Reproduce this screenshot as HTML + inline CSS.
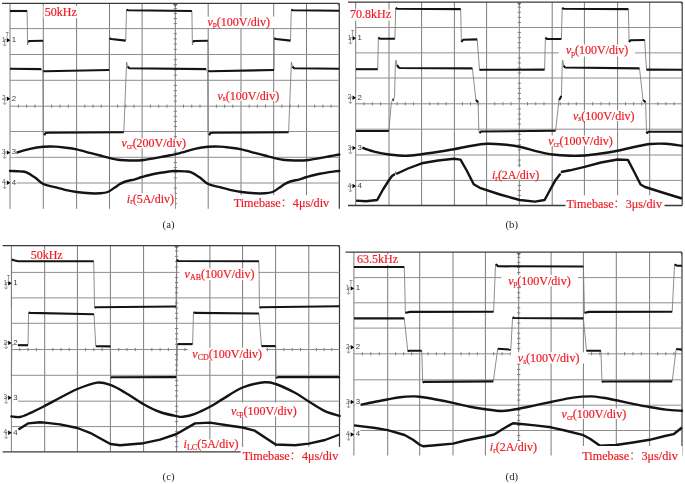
<!DOCTYPE html>
<html><head><meta charset="utf-8"><title>Waveforms</title>
<style>html,body{margin:0;padding:0;background:#fff;}body{width:685px;height:484px;overflow:hidden;}svg{display:block;}</style>
</head><body>
<svg width="685" height="484" viewBox="0 0 685 484">
<rect width="685" height="484" fill="#fff"/>
<g shape-rendering="auto">
<line x1="10" y1="3.4" x2="10" y2="208.8" stroke="#7c7c7c" stroke-width="1.0"/>
<line x1="43.3" y1="3.4" x2="43.3" y2="208.8" stroke="#7c7c7c" stroke-width="1.0"/>
<line x1="76.6" y1="3.4" x2="76.6" y2="208.8" stroke="#7c7c7c" stroke-width="1.0"/>
<line x1="109.5" y1="3.4" x2="109.5" y2="208.8" stroke="#7c7c7c" stroke-width="1.0"/>
<line x1="142.1" y1="3.4" x2="142.1" y2="208.8" stroke="#7c7c7c" stroke-width="1.0"/>
<line x1="175.3" y1="3.4" x2="175.3" y2="208.8" stroke="#7c7c7c" stroke-width="1.0"/>
<line x1="208.2" y1="3.4" x2="208.2" y2="208.8" stroke="#7c7c7c" stroke-width="1.0"/>
<line x1="241" y1="3.4" x2="241" y2="208.8" stroke="#7c7c7c" stroke-width="1.0"/>
<line x1="273.7" y1="3.4" x2="273.7" y2="208.8" stroke="#7c7c7c" stroke-width="1.0"/>
<line x1="306.5" y1="3.4" x2="306.5" y2="208.8" stroke="#7c7c7c" stroke-width="1.0"/>
<line x1="339.3" y1="3.4" x2="339.3" y2="208.8" stroke="#3a3a3a" stroke-width="1.2"/>
<line x1="10" y1="28.6" x2="339.3" y2="28.6" stroke="#8e8e8e" stroke-width="1.0"/>
<line x1="10" y1="54.5" x2="339.3" y2="54.5" stroke="#8e8e8e" stroke-width="1.0"/>
<line x1="10" y1="80.3" x2="339.3" y2="80.3" stroke="#8e8e8e" stroke-width="1.0"/>
<line x1="10" y1="106.2" x2="339.3" y2="106.2" stroke="#8e8e8e" stroke-width="1.0"/>
<line x1="10" y1="131.5" x2="339.3" y2="131.5" stroke="#8e8e8e" stroke-width="1.0"/>
<line x1="10" y1="157.3" x2="339.3" y2="157.3" stroke="#8e8e8e" stroke-width="1.0"/>
<line x1="10" y1="183" x2="339.3" y2="183" stroke="#8e8e8e" stroke-width="1.0"/>
<line x1="2" y1="3.4" x2="339.3" y2="3.4" stroke="#3a3a3a" stroke-width="1.3"/>
<line x1="18.32" y1="104.6" x2="18.32" y2="107.8" stroke="#7c7c7c" stroke-width="1.0"/>
<line x1="26.65" y1="104.6" x2="26.65" y2="107.8" stroke="#7c7c7c" stroke-width="1.0"/>
<line x1="34.97" y1="104.6" x2="34.97" y2="107.8" stroke="#7c7c7c" stroke-width="1.0"/>
<line x1="51.62" y1="104.6" x2="51.62" y2="107.8" stroke="#7c7c7c" stroke-width="1.0"/>
<line x1="59.95" y1="104.6" x2="59.95" y2="107.8" stroke="#7c7c7c" stroke-width="1.0"/>
<line x1="68.27" y1="104.6" x2="68.27" y2="107.8" stroke="#7c7c7c" stroke-width="1.0"/>
<line x1="84.82" y1="104.6" x2="84.82" y2="107.8" stroke="#7c7c7c" stroke-width="1.0"/>
<line x1="93.05" y1="104.6" x2="93.05" y2="107.8" stroke="#7c7c7c" stroke-width="1.0"/>
<line x1="101.28" y1="104.6" x2="101.28" y2="107.8" stroke="#7c7c7c" stroke-width="1.0"/>
<line x1="117.65" y1="104.6" x2="117.65" y2="107.8" stroke="#7c7c7c" stroke-width="1.0"/>
<line x1="125.8" y1="104.6" x2="125.8" y2="107.8" stroke="#7c7c7c" stroke-width="1.0"/>
<line x1="133.95" y1="104.6" x2="133.95" y2="107.8" stroke="#7c7c7c" stroke-width="1.0"/>
<line x1="150.4" y1="104.6" x2="150.4" y2="107.8" stroke="#7c7c7c" stroke-width="1.0"/>
<line x1="158.7" y1="104.6" x2="158.7" y2="107.8" stroke="#7c7c7c" stroke-width="1.0"/>
<line x1="167" y1="104.6" x2="167" y2="107.8" stroke="#7c7c7c" stroke-width="1.0"/>
<line x1="183.53" y1="104.6" x2="183.53" y2="107.8" stroke="#7c7c7c" stroke-width="1.0"/>
<line x1="191.75" y1="104.6" x2="191.75" y2="107.8" stroke="#7c7c7c" stroke-width="1.0"/>
<line x1="199.97" y1="104.6" x2="199.97" y2="107.8" stroke="#7c7c7c" stroke-width="1.0"/>
<line x1="216.4" y1="104.6" x2="216.4" y2="107.8" stroke="#7c7c7c" stroke-width="1.0"/>
<line x1="224.6" y1="104.6" x2="224.6" y2="107.8" stroke="#7c7c7c" stroke-width="1.0"/>
<line x1="232.8" y1="104.6" x2="232.8" y2="107.8" stroke="#7c7c7c" stroke-width="1.0"/>
<line x1="249.18" y1="104.6" x2="249.18" y2="107.8" stroke="#7c7c7c" stroke-width="1.0"/>
<line x1="257.35" y1="104.6" x2="257.35" y2="107.8" stroke="#7c7c7c" stroke-width="1.0"/>
<line x1="265.52" y1="104.6" x2="265.52" y2="107.8" stroke="#7c7c7c" stroke-width="1.0"/>
<line x1="281.9" y1="104.6" x2="281.9" y2="107.8" stroke="#7c7c7c" stroke-width="1.0"/>
<line x1="290.1" y1="104.6" x2="290.1" y2="107.8" stroke="#7c7c7c" stroke-width="1.0"/>
<line x1="298.3" y1="104.6" x2="298.3" y2="107.8" stroke="#7c7c7c" stroke-width="1.0"/>
<line x1="314.7" y1="104.6" x2="314.7" y2="107.8" stroke="#7c7c7c" stroke-width="1.0"/>
<line x1="322.9" y1="104.6" x2="322.9" y2="107.8" stroke="#7c7c7c" stroke-width="1.0"/>
<line x1="331.1" y1="104.6" x2="331.1" y2="107.8" stroke="#7c7c7c" stroke-width="1.0"/>
<line x1="173.7" y1="8.44" x2="176.9" y2="8.44" stroke="#7c7c7c" stroke-width="1.0"/>
<line x1="173.7" y1="13.48" x2="176.9" y2="13.48" stroke="#7c7c7c" stroke-width="1.0"/>
<line x1="173.7" y1="18.52" x2="176.9" y2="18.52" stroke="#7c7c7c" stroke-width="1.0"/>
<line x1="173.7" y1="23.56" x2="176.9" y2="23.56" stroke="#7c7c7c" stroke-width="1.0"/>
<line x1="173.7" y1="33.78" x2="176.9" y2="33.78" stroke="#7c7c7c" stroke-width="1.0"/>
<line x1="173.7" y1="38.96" x2="176.9" y2="38.96" stroke="#7c7c7c" stroke-width="1.0"/>
<line x1="173.7" y1="44.14" x2="176.9" y2="44.14" stroke="#7c7c7c" stroke-width="1.0"/>
<line x1="173.7" y1="49.32" x2="176.9" y2="49.32" stroke="#7c7c7c" stroke-width="1.0"/>
<line x1="173.7" y1="59.66" x2="176.9" y2="59.66" stroke="#7c7c7c" stroke-width="1.0"/>
<line x1="173.7" y1="64.82" x2="176.9" y2="64.82" stroke="#7c7c7c" stroke-width="1.0"/>
<line x1="173.7" y1="69.98" x2="176.9" y2="69.98" stroke="#7c7c7c" stroke-width="1.0"/>
<line x1="173.7" y1="75.14" x2="176.9" y2="75.14" stroke="#7c7c7c" stroke-width="1.0"/>
<line x1="173.7" y1="85.48" x2="176.9" y2="85.48" stroke="#7c7c7c" stroke-width="1.0"/>
<line x1="173.7" y1="90.66" x2="176.9" y2="90.66" stroke="#7c7c7c" stroke-width="1.0"/>
<line x1="173.7" y1="95.84" x2="176.9" y2="95.84" stroke="#7c7c7c" stroke-width="1.0"/>
<line x1="173.7" y1="101.02" x2="176.9" y2="101.02" stroke="#7c7c7c" stroke-width="1.0"/>
<line x1="173.7" y1="111.26" x2="176.9" y2="111.26" stroke="#7c7c7c" stroke-width="1.0"/>
<line x1="173.7" y1="116.32" x2="176.9" y2="116.32" stroke="#7c7c7c" stroke-width="1.0"/>
<line x1="173.7" y1="121.38" x2="176.9" y2="121.38" stroke="#7c7c7c" stroke-width="1.0"/>
<line x1="173.7" y1="126.44" x2="176.9" y2="126.44" stroke="#7c7c7c" stroke-width="1.0"/>
<line x1="173.7" y1="136.66" x2="176.9" y2="136.66" stroke="#7c7c7c" stroke-width="1.0"/>
<line x1="173.7" y1="141.82" x2="176.9" y2="141.82" stroke="#7c7c7c" stroke-width="1.0"/>
<line x1="173.7" y1="146.98" x2="176.9" y2="146.98" stroke="#7c7c7c" stroke-width="1.0"/>
<line x1="173.7" y1="152.14" x2="176.9" y2="152.14" stroke="#7c7c7c" stroke-width="1.0"/>
<line x1="173.7" y1="162.44" x2="176.9" y2="162.44" stroke="#7c7c7c" stroke-width="1.0"/>
<line x1="173.7" y1="167.58" x2="176.9" y2="167.58" stroke="#7c7c7c" stroke-width="1.0"/>
<line x1="173.7" y1="172.72" x2="176.9" y2="172.72" stroke="#7c7c7c" stroke-width="1.0"/>
<line x1="173.7" y1="177.86" x2="176.9" y2="177.86" stroke="#7c7c7c" stroke-width="1.0"/>
<line x1="173.7" y1="188.16" x2="176.9" y2="188.16" stroke="#7c7c7c" stroke-width="1.0"/>
<line x1="173.7" y1="193.32" x2="176.9" y2="193.32" stroke="#7c7c7c" stroke-width="1.0"/>
<line x1="173.7" y1="198.48" x2="176.9" y2="198.48" stroke="#7c7c7c" stroke-width="1.0"/>
<line x1="173.7" y1="203.64" x2="176.9" y2="203.64" stroke="#7c7c7c" stroke-width="1.0"/>
<path d="M335.7,3.4 Q339,3.7 339.3,8.2 L339.3,3.4 Z" fill="#555"/>
<path d="M172.8,3.9 L177.8,3.9 L175.3,6.9 Z" fill="#666"/>
<line x1="355.7" y1="2.1" x2="355.7" y2="205.5" stroke="#7c7c7c" stroke-width="1.0"/>
<line x1="389" y1="2.1" x2="389" y2="205.5" stroke="#7c7c7c" stroke-width="1.0"/>
<line x1="421.6" y1="2.1" x2="421.6" y2="205.5" stroke="#7c7c7c" stroke-width="1.0"/>
<line x1="454.4" y1="2.1" x2="454.4" y2="205.5" stroke="#7c7c7c" stroke-width="1.0"/>
<line x1="486.6" y1="2.1" x2="486.6" y2="205.5" stroke="#7c7c7c" stroke-width="1.0"/>
<line x1="519.3" y1="2.1" x2="519.3" y2="205.5" stroke="#7c7c7c" stroke-width="1.0"/>
<line x1="552.2" y1="2.1" x2="552.2" y2="205.5" stroke="#7c7c7c" stroke-width="1.0"/>
<line x1="584.4" y1="2.1" x2="584.4" y2="205.5" stroke="#7c7c7c" stroke-width="1.0"/>
<line x1="617.6" y1="2.1" x2="617.6" y2="205.5" stroke="#7c7c7c" stroke-width="1.0"/>
<line x1="649.7" y1="2.1" x2="649.7" y2="205.5" stroke="#7c7c7c" stroke-width="1.0"/>
<line x1="682.2" y1="2.1" x2="682.2" y2="205.5" stroke="#3a3a3a" stroke-width="1.2"/>
<line x1="355.7" y1="27.5" x2="682.2" y2="27.5" stroke="#8e8e8e" stroke-width="1.0"/>
<line x1="355.7" y1="52.9" x2="682.2" y2="52.9" stroke="#8e8e8e" stroke-width="1.0"/>
<line x1="355.7" y1="78" x2="682.2" y2="78" stroke="#8e8e8e" stroke-width="1.0"/>
<line x1="355.7" y1="103.8" x2="682.2" y2="103.8" stroke="#8e8e8e" stroke-width="1.0"/>
<line x1="355.7" y1="129.2" x2="682.2" y2="129.2" stroke="#8e8e8e" stroke-width="1.0"/>
<line x1="355.7" y1="155" x2="682.2" y2="155" stroke="#8e8e8e" stroke-width="1.0"/>
<line x1="355.7" y1="180.4" x2="682.2" y2="180.4" stroke="#8e8e8e" stroke-width="1.0"/>
<line x1="348" y1="2.1" x2="682.2" y2="2.1" stroke="#3a3a3a" stroke-width="1.3"/>
<line x1="348" y1="205.5" x2="682.2" y2="205.5" stroke="#3a3a3a" stroke-width="1.3"/>
<line x1="364.02" y1="102.2" x2="364.02" y2="105.4" stroke="#7c7c7c" stroke-width="1.0"/>
<line x1="372.35" y1="102.2" x2="372.35" y2="105.4" stroke="#7c7c7c" stroke-width="1.0"/>
<line x1="380.68" y1="102.2" x2="380.68" y2="105.4" stroke="#7c7c7c" stroke-width="1.0"/>
<line x1="397.15" y1="102.2" x2="397.15" y2="105.4" stroke="#7c7c7c" stroke-width="1.0"/>
<line x1="405.3" y1="102.2" x2="405.3" y2="105.4" stroke="#7c7c7c" stroke-width="1.0"/>
<line x1="413.45" y1="102.2" x2="413.45" y2="105.4" stroke="#7c7c7c" stroke-width="1.0"/>
<line x1="429.8" y1="102.2" x2="429.8" y2="105.4" stroke="#7c7c7c" stroke-width="1.0"/>
<line x1="438" y1="102.2" x2="438" y2="105.4" stroke="#7c7c7c" stroke-width="1.0"/>
<line x1="446.2" y1="102.2" x2="446.2" y2="105.4" stroke="#7c7c7c" stroke-width="1.0"/>
<line x1="462.45" y1="102.2" x2="462.45" y2="105.4" stroke="#7c7c7c" stroke-width="1.0"/>
<line x1="470.5" y1="102.2" x2="470.5" y2="105.4" stroke="#7c7c7c" stroke-width="1.0"/>
<line x1="478.55" y1="102.2" x2="478.55" y2="105.4" stroke="#7c7c7c" stroke-width="1.0"/>
<line x1="494.77" y1="102.2" x2="494.77" y2="105.4" stroke="#7c7c7c" stroke-width="1.0"/>
<line x1="502.95" y1="102.2" x2="502.95" y2="105.4" stroke="#7c7c7c" stroke-width="1.0"/>
<line x1="511.12" y1="102.2" x2="511.12" y2="105.4" stroke="#7c7c7c" stroke-width="1.0"/>
<line x1="527.52" y1="102.2" x2="527.52" y2="105.4" stroke="#7c7c7c" stroke-width="1.0"/>
<line x1="535.75" y1="102.2" x2="535.75" y2="105.4" stroke="#7c7c7c" stroke-width="1.0"/>
<line x1="543.98" y1="102.2" x2="543.98" y2="105.4" stroke="#7c7c7c" stroke-width="1.0"/>
<line x1="560.25" y1="102.2" x2="560.25" y2="105.4" stroke="#7c7c7c" stroke-width="1.0"/>
<line x1="568.3" y1="102.2" x2="568.3" y2="105.4" stroke="#7c7c7c" stroke-width="1.0"/>
<line x1="576.35" y1="102.2" x2="576.35" y2="105.4" stroke="#7c7c7c" stroke-width="1.0"/>
<line x1="592.7" y1="102.2" x2="592.7" y2="105.4" stroke="#7c7c7c" stroke-width="1.0"/>
<line x1="601" y1="102.2" x2="601" y2="105.4" stroke="#7c7c7c" stroke-width="1.0"/>
<line x1="609.3" y1="102.2" x2="609.3" y2="105.4" stroke="#7c7c7c" stroke-width="1.0"/>
<line x1="625.62" y1="102.2" x2="625.62" y2="105.4" stroke="#7c7c7c" stroke-width="1.0"/>
<line x1="633.65" y1="102.2" x2="633.65" y2="105.4" stroke="#7c7c7c" stroke-width="1.0"/>
<line x1="641.68" y1="102.2" x2="641.68" y2="105.4" stroke="#7c7c7c" stroke-width="1.0"/>
<line x1="657.83" y1="102.2" x2="657.83" y2="105.4" stroke="#7c7c7c" stroke-width="1.0"/>
<line x1="665.95" y1="102.2" x2="665.95" y2="105.4" stroke="#7c7c7c" stroke-width="1.0"/>
<line x1="674.08" y1="102.2" x2="674.08" y2="105.4" stroke="#7c7c7c" stroke-width="1.0"/>
<line x1="517.7" y1="7.18" x2="520.9" y2="7.18" stroke="#7c7c7c" stroke-width="1.0"/>
<line x1="517.7" y1="12.26" x2="520.9" y2="12.26" stroke="#7c7c7c" stroke-width="1.0"/>
<line x1="517.7" y1="17.34" x2="520.9" y2="17.34" stroke="#7c7c7c" stroke-width="1.0"/>
<line x1="517.7" y1="22.42" x2="520.9" y2="22.42" stroke="#7c7c7c" stroke-width="1.0"/>
<line x1="517.7" y1="32.58" x2="520.9" y2="32.58" stroke="#7c7c7c" stroke-width="1.0"/>
<line x1="517.7" y1="37.66" x2="520.9" y2="37.66" stroke="#7c7c7c" stroke-width="1.0"/>
<line x1="517.7" y1="42.74" x2="520.9" y2="42.74" stroke="#7c7c7c" stroke-width="1.0"/>
<line x1="517.7" y1="47.82" x2="520.9" y2="47.82" stroke="#7c7c7c" stroke-width="1.0"/>
<line x1="517.7" y1="57.92" x2="520.9" y2="57.92" stroke="#7c7c7c" stroke-width="1.0"/>
<line x1="517.7" y1="62.94" x2="520.9" y2="62.94" stroke="#7c7c7c" stroke-width="1.0"/>
<line x1="517.7" y1="67.96" x2="520.9" y2="67.96" stroke="#7c7c7c" stroke-width="1.0"/>
<line x1="517.7" y1="72.98" x2="520.9" y2="72.98" stroke="#7c7c7c" stroke-width="1.0"/>
<line x1="517.7" y1="83.16" x2="520.9" y2="83.16" stroke="#7c7c7c" stroke-width="1.0"/>
<line x1="517.7" y1="88.32" x2="520.9" y2="88.32" stroke="#7c7c7c" stroke-width="1.0"/>
<line x1="517.7" y1="93.48" x2="520.9" y2="93.48" stroke="#7c7c7c" stroke-width="1.0"/>
<line x1="517.7" y1="98.64" x2="520.9" y2="98.64" stroke="#7c7c7c" stroke-width="1.0"/>
<line x1="517.7" y1="108.88" x2="520.9" y2="108.88" stroke="#7c7c7c" stroke-width="1.0"/>
<line x1="517.7" y1="113.96" x2="520.9" y2="113.96" stroke="#7c7c7c" stroke-width="1.0"/>
<line x1="517.7" y1="119.04" x2="520.9" y2="119.04" stroke="#7c7c7c" stroke-width="1.0"/>
<line x1="517.7" y1="124.12" x2="520.9" y2="124.12" stroke="#7c7c7c" stroke-width="1.0"/>
<line x1="517.7" y1="134.36" x2="520.9" y2="134.36" stroke="#7c7c7c" stroke-width="1.0"/>
<line x1="517.7" y1="139.52" x2="520.9" y2="139.52" stroke="#7c7c7c" stroke-width="1.0"/>
<line x1="517.7" y1="144.68" x2="520.9" y2="144.68" stroke="#7c7c7c" stroke-width="1.0"/>
<line x1="517.7" y1="149.84" x2="520.9" y2="149.84" stroke="#7c7c7c" stroke-width="1.0"/>
<line x1="517.7" y1="160.08" x2="520.9" y2="160.08" stroke="#7c7c7c" stroke-width="1.0"/>
<line x1="517.7" y1="165.16" x2="520.9" y2="165.16" stroke="#7c7c7c" stroke-width="1.0"/>
<line x1="517.7" y1="170.24" x2="520.9" y2="170.24" stroke="#7c7c7c" stroke-width="1.0"/>
<line x1="517.7" y1="175.32" x2="520.9" y2="175.32" stroke="#7c7c7c" stroke-width="1.0"/>
<line x1="517.7" y1="185.42" x2="520.9" y2="185.42" stroke="#7c7c7c" stroke-width="1.0"/>
<line x1="517.7" y1="190.44" x2="520.9" y2="190.44" stroke="#7c7c7c" stroke-width="1.0"/>
<line x1="517.7" y1="195.46" x2="520.9" y2="195.46" stroke="#7c7c7c" stroke-width="1.0"/>
<line x1="517.7" y1="200.48" x2="520.9" y2="200.48" stroke="#7c7c7c" stroke-width="1.0"/>
<path d="M678.6,2.1 Q681.9,2.4 682.2,6.9 L682.2,2.1 Z" fill="#555"/>
<path d="M516.8,2.6 L521.8,2.6 L519.3,5.6 Z" fill="#666"/>
<line x1="11.4" y1="245.6" x2="11.4" y2="451.9" stroke="#7c7c7c" stroke-width="1.0"/>
<line x1="44.7" y1="245.6" x2="44.7" y2="451.9" stroke="#7c7c7c" stroke-width="1.0"/>
<line x1="77.4" y1="245.6" x2="77.4" y2="451.9" stroke="#7c7c7c" stroke-width="1.0"/>
<line x1="110.4" y1="245.6" x2="110.4" y2="451.9" stroke="#7c7c7c" stroke-width="1.0"/>
<line x1="143.6" y1="245.6" x2="143.6" y2="451.9" stroke="#7c7c7c" stroke-width="1.0"/>
<line x1="176.6" y1="245.6" x2="176.6" y2="451.9" stroke="#7c7c7c" stroke-width="1.0"/>
<line x1="209.9" y1="245.6" x2="209.9" y2="451.9" stroke="#7c7c7c" stroke-width="1.0"/>
<line x1="242.6" y1="245.6" x2="242.6" y2="451.9" stroke="#7c7c7c" stroke-width="1.0"/>
<line x1="275.6" y1="245.6" x2="275.6" y2="451.9" stroke="#7c7c7c" stroke-width="1.0"/>
<line x1="308.8" y1="245.6" x2="308.8" y2="451.9" stroke="#7c7c7c" stroke-width="1.0"/>
<line x1="339.5" y1="245.6" x2="339.5" y2="451.9" stroke="#3a3a3a" stroke-width="1.2"/>
<line x1="11.4" y1="272.4" x2="339.5" y2="272.4" stroke="#8e8e8e" stroke-width="1.0"/>
<line x1="11.4" y1="297.9" x2="339.5" y2="297.9" stroke="#8e8e8e" stroke-width="1.0"/>
<line x1="11.4" y1="323.3" x2="339.5" y2="323.3" stroke="#8e8e8e" stroke-width="1.0"/>
<line x1="11.4" y1="349.5" x2="339.5" y2="349.5" stroke="#8e8e8e" stroke-width="1.0"/>
<line x1="11.4" y1="375.3" x2="339.5" y2="375.3" stroke="#8e8e8e" stroke-width="1.0"/>
<line x1="11.4" y1="401.2" x2="339.5" y2="401.2" stroke="#8e8e8e" stroke-width="1.0"/>
<line x1="11.4" y1="426.6" x2="339.5" y2="426.6" stroke="#8e8e8e" stroke-width="1.0"/>
<line x1="2.6" y1="245.6" x2="339.5" y2="245.6" stroke="#3a3a3a" stroke-width="1.3"/>
<line x1="2.6" y1="451.9" x2="339.5" y2="451.9" stroke="#3a3a3a" stroke-width="1.3"/>
<line x1="19.73" y1="347.9" x2="19.73" y2="351.1" stroke="#7c7c7c" stroke-width="1.0"/>
<line x1="28.05" y1="347.9" x2="28.05" y2="351.1" stroke="#7c7c7c" stroke-width="1.0"/>
<line x1="36.38" y1="347.9" x2="36.38" y2="351.1" stroke="#7c7c7c" stroke-width="1.0"/>
<line x1="52.88" y1="347.9" x2="52.88" y2="351.1" stroke="#7c7c7c" stroke-width="1.0"/>
<line x1="61.05" y1="347.9" x2="61.05" y2="351.1" stroke="#7c7c7c" stroke-width="1.0"/>
<line x1="69.23" y1="347.9" x2="69.23" y2="351.1" stroke="#7c7c7c" stroke-width="1.0"/>
<line x1="85.65" y1="347.9" x2="85.65" y2="351.1" stroke="#7c7c7c" stroke-width="1.0"/>
<line x1="93.9" y1="347.9" x2="93.9" y2="351.1" stroke="#7c7c7c" stroke-width="1.0"/>
<line x1="102.15" y1="347.9" x2="102.15" y2="351.1" stroke="#7c7c7c" stroke-width="1.0"/>
<line x1="118.7" y1="347.9" x2="118.7" y2="351.1" stroke="#7c7c7c" stroke-width="1.0"/>
<line x1="127" y1="347.9" x2="127" y2="351.1" stroke="#7c7c7c" stroke-width="1.0"/>
<line x1="135.3" y1="347.9" x2="135.3" y2="351.1" stroke="#7c7c7c" stroke-width="1.0"/>
<line x1="151.85" y1="347.9" x2="151.85" y2="351.1" stroke="#7c7c7c" stroke-width="1.0"/>
<line x1="160.1" y1="347.9" x2="160.1" y2="351.1" stroke="#7c7c7c" stroke-width="1.0"/>
<line x1="168.35" y1="347.9" x2="168.35" y2="351.1" stroke="#7c7c7c" stroke-width="1.0"/>
<line x1="184.93" y1="347.9" x2="184.93" y2="351.1" stroke="#7c7c7c" stroke-width="1.0"/>
<line x1="193.25" y1="347.9" x2="193.25" y2="351.1" stroke="#7c7c7c" stroke-width="1.0"/>
<line x1="201.57" y1="347.9" x2="201.57" y2="351.1" stroke="#7c7c7c" stroke-width="1.0"/>
<line x1="218.07" y1="347.9" x2="218.07" y2="351.1" stroke="#7c7c7c" stroke-width="1.0"/>
<line x1="226.25" y1="347.9" x2="226.25" y2="351.1" stroke="#7c7c7c" stroke-width="1.0"/>
<line x1="234.43" y1="347.9" x2="234.43" y2="351.1" stroke="#7c7c7c" stroke-width="1.0"/>
<line x1="250.85" y1="347.9" x2="250.85" y2="351.1" stroke="#7c7c7c" stroke-width="1.0"/>
<line x1="259.1" y1="347.9" x2="259.1" y2="351.1" stroke="#7c7c7c" stroke-width="1.0"/>
<line x1="267.35" y1="347.9" x2="267.35" y2="351.1" stroke="#7c7c7c" stroke-width="1.0"/>
<line x1="283.9" y1="347.9" x2="283.9" y2="351.1" stroke="#7c7c7c" stroke-width="1.0"/>
<line x1="292.2" y1="347.9" x2="292.2" y2="351.1" stroke="#7c7c7c" stroke-width="1.0"/>
<line x1="300.5" y1="347.9" x2="300.5" y2="351.1" stroke="#7c7c7c" stroke-width="1.0"/>
<line x1="316.48" y1="347.9" x2="316.48" y2="351.1" stroke="#7c7c7c" stroke-width="1.0"/>
<line x1="324.15" y1="347.9" x2="324.15" y2="351.1" stroke="#7c7c7c" stroke-width="1.0"/>
<line x1="331.82" y1="347.9" x2="331.82" y2="351.1" stroke="#7c7c7c" stroke-width="1.0"/>
<line x1="175" y1="250.96" x2="178.2" y2="250.96" stroke="#7c7c7c" stroke-width="1.0"/>
<line x1="175" y1="256.32" x2="178.2" y2="256.32" stroke="#7c7c7c" stroke-width="1.0"/>
<line x1="175" y1="261.68" x2="178.2" y2="261.68" stroke="#7c7c7c" stroke-width="1.0"/>
<line x1="175" y1="267.04" x2="178.2" y2="267.04" stroke="#7c7c7c" stroke-width="1.0"/>
<line x1="175" y1="277.5" x2="178.2" y2="277.5" stroke="#7c7c7c" stroke-width="1.0"/>
<line x1="175" y1="282.6" x2="178.2" y2="282.6" stroke="#7c7c7c" stroke-width="1.0"/>
<line x1="175" y1="287.7" x2="178.2" y2="287.7" stroke="#7c7c7c" stroke-width="1.0"/>
<line x1="175" y1="292.8" x2="178.2" y2="292.8" stroke="#7c7c7c" stroke-width="1.0"/>
<line x1="175" y1="302.98" x2="178.2" y2="302.98" stroke="#7c7c7c" stroke-width="1.0"/>
<line x1="175" y1="308.06" x2="178.2" y2="308.06" stroke="#7c7c7c" stroke-width="1.0"/>
<line x1="175" y1="313.14" x2="178.2" y2="313.14" stroke="#7c7c7c" stroke-width="1.0"/>
<line x1="175" y1="318.22" x2="178.2" y2="318.22" stroke="#7c7c7c" stroke-width="1.0"/>
<line x1="175" y1="328.54" x2="178.2" y2="328.54" stroke="#7c7c7c" stroke-width="1.0"/>
<line x1="175" y1="333.78" x2="178.2" y2="333.78" stroke="#7c7c7c" stroke-width="1.0"/>
<line x1="175" y1="339.02" x2="178.2" y2="339.02" stroke="#7c7c7c" stroke-width="1.0"/>
<line x1="175" y1="344.26" x2="178.2" y2="344.26" stroke="#7c7c7c" stroke-width="1.0"/>
<line x1="175" y1="354.66" x2="178.2" y2="354.66" stroke="#7c7c7c" stroke-width="1.0"/>
<line x1="175" y1="359.82" x2="178.2" y2="359.82" stroke="#7c7c7c" stroke-width="1.0"/>
<line x1="175" y1="364.98" x2="178.2" y2="364.98" stroke="#7c7c7c" stroke-width="1.0"/>
<line x1="175" y1="370.14" x2="178.2" y2="370.14" stroke="#7c7c7c" stroke-width="1.0"/>
<line x1="175" y1="380.48" x2="178.2" y2="380.48" stroke="#7c7c7c" stroke-width="1.0"/>
<line x1="175" y1="385.66" x2="178.2" y2="385.66" stroke="#7c7c7c" stroke-width="1.0"/>
<line x1="175" y1="390.84" x2="178.2" y2="390.84" stroke="#7c7c7c" stroke-width="1.0"/>
<line x1="175" y1="396.02" x2="178.2" y2="396.02" stroke="#7c7c7c" stroke-width="1.0"/>
<line x1="175" y1="406.28" x2="178.2" y2="406.28" stroke="#7c7c7c" stroke-width="1.0"/>
<line x1="175" y1="411.36" x2="178.2" y2="411.36" stroke="#7c7c7c" stroke-width="1.0"/>
<line x1="175" y1="416.44" x2="178.2" y2="416.44" stroke="#7c7c7c" stroke-width="1.0"/>
<line x1="175" y1="421.52" x2="178.2" y2="421.52" stroke="#7c7c7c" stroke-width="1.0"/>
<line x1="175" y1="431.66" x2="178.2" y2="431.66" stroke="#7c7c7c" stroke-width="1.0"/>
<line x1="175" y1="436.72" x2="178.2" y2="436.72" stroke="#7c7c7c" stroke-width="1.0"/>
<line x1="175" y1="441.78" x2="178.2" y2="441.78" stroke="#7c7c7c" stroke-width="1.0"/>
<line x1="175" y1="446.84" x2="178.2" y2="446.84" stroke="#7c7c7c" stroke-width="1.0"/>
<path d="M335.9,245.6 Q339.2,245.9 339.5,250.4 L339.5,245.6 Z" fill="#555"/>
<path d="M174.1,246.1 L179.1,246.1 L176.6,249.1 Z" fill="#666"/>
<line x1="353.9" y1="252.2" x2="353.9" y2="455.5" stroke="#7c7c7c" stroke-width="1.0"/>
<line x1="387.7" y1="252.2" x2="387.7" y2="455.5" stroke="#7c7c7c" stroke-width="1.0"/>
<line x1="419.7" y1="252.2" x2="419.7" y2="455.5" stroke="#7c7c7c" stroke-width="1.0"/>
<line x1="453" y1="252.2" x2="453" y2="455.5" stroke="#7c7c7c" stroke-width="1.0"/>
<line x1="485.4" y1="252.2" x2="485.4" y2="455.5" stroke="#7c7c7c" stroke-width="1.0"/>
<line x1="518.7" y1="252.2" x2="518.7" y2="455.5" stroke="#7c7c7c" stroke-width="1.0"/>
<line x1="551.1" y1="252.2" x2="551.1" y2="455.5" stroke="#7c7c7c" stroke-width="1.0"/>
<line x1="583.4" y1="252.2" x2="583.4" y2="455.5" stroke="#7c7c7c" stroke-width="1.0"/>
<line x1="616.3" y1="252.2" x2="616.3" y2="455.5" stroke="#7c7c7c" stroke-width="1.0"/>
<line x1="649.6" y1="252.2" x2="649.6" y2="455.5" stroke="#7c7c7c" stroke-width="1.0"/>
<line x1="682" y1="252.2" x2="682" y2="455.5" stroke="#3a3a3a" stroke-width="1.2"/>
<line x1="353.9" y1="277.6" x2="682" y2="277.6" stroke="#8e8e8e" stroke-width="1.0"/>
<line x1="353.9" y1="302.8" x2="682" y2="302.8" stroke="#8e8e8e" stroke-width="1.0"/>
<line x1="353.9" y1="328.1" x2="682" y2="328.1" stroke="#8e8e8e" stroke-width="1.0"/>
<line x1="353.9" y1="353.8" x2="682" y2="353.8" stroke="#8e8e8e" stroke-width="1.0"/>
<line x1="353.9" y1="379.8" x2="682" y2="379.8" stroke="#8e8e8e" stroke-width="1.0"/>
<line x1="353.9" y1="405.2" x2="682" y2="405.2" stroke="#8e8e8e" stroke-width="1.0"/>
<line x1="353.9" y1="430.5" x2="682" y2="430.5" stroke="#8e8e8e" stroke-width="1.0"/>
<line x1="345.6" y1="252.2" x2="682" y2="252.2" stroke="#3a3a3a" stroke-width="1.3"/>
<line x1="362.35" y1="352.2" x2="362.35" y2="355.4" stroke="#7c7c7c" stroke-width="1.0"/>
<line x1="370.8" y1="352.2" x2="370.8" y2="355.4" stroke="#7c7c7c" stroke-width="1.0"/>
<line x1="379.25" y1="352.2" x2="379.25" y2="355.4" stroke="#7c7c7c" stroke-width="1.0"/>
<line x1="395.7" y1="352.2" x2="395.7" y2="355.4" stroke="#7c7c7c" stroke-width="1.0"/>
<line x1="403.7" y1="352.2" x2="403.7" y2="355.4" stroke="#7c7c7c" stroke-width="1.0"/>
<line x1="411.7" y1="352.2" x2="411.7" y2="355.4" stroke="#7c7c7c" stroke-width="1.0"/>
<line x1="428.02" y1="352.2" x2="428.02" y2="355.4" stroke="#7c7c7c" stroke-width="1.0"/>
<line x1="436.35" y1="352.2" x2="436.35" y2="355.4" stroke="#7c7c7c" stroke-width="1.0"/>
<line x1="444.68" y1="352.2" x2="444.68" y2="355.4" stroke="#7c7c7c" stroke-width="1.0"/>
<line x1="461.1" y1="352.2" x2="461.1" y2="355.4" stroke="#7c7c7c" stroke-width="1.0"/>
<line x1="469.2" y1="352.2" x2="469.2" y2="355.4" stroke="#7c7c7c" stroke-width="1.0"/>
<line x1="477.3" y1="352.2" x2="477.3" y2="355.4" stroke="#7c7c7c" stroke-width="1.0"/>
<line x1="493.73" y1="352.2" x2="493.73" y2="355.4" stroke="#7c7c7c" stroke-width="1.0"/>
<line x1="502.05" y1="352.2" x2="502.05" y2="355.4" stroke="#7c7c7c" stroke-width="1.0"/>
<line x1="510.38" y1="352.2" x2="510.38" y2="355.4" stroke="#7c7c7c" stroke-width="1.0"/>
<line x1="526.8" y1="352.2" x2="526.8" y2="355.4" stroke="#7c7c7c" stroke-width="1.0"/>
<line x1="534.9" y1="352.2" x2="534.9" y2="355.4" stroke="#7c7c7c" stroke-width="1.0"/>
<line x1="543" y1="352.2" x2="543" y2="355.4" stroke="#7c7c7c" stroke-width="1.0"/>
<line x1="559.17" y1="352.2" x2="559.17" y2="355.4" stroke="#7c7c7c" stroke-width="1.0"/>
<line x1="567.25" y1="352.2" x2="567.25" y2="355.4" stroke="#7c7c7c" stroke-width="1.0"/>
<line x1="575.33" y1="352.2" x2="575.33" y2="355.4" stroke="#7c7c7c" stroke-width="1.0"/>
<line x1="591.62" y1="352.2" x2="591.62" y2="355.4" stroke="#7c7c7c" stroke-width="1.0"/>
<line x1="599.85" y1="352.2" x2="599.85" y2="355.4" stroke="#7c7c7c" stroke-width="1.0"/>
<line x1="608.07" y1="352.2" x2="608.07" y2="355.4" stroke="#7c7c7c" stroke-width="1.0"/>
<line x1="624.62" y1="352.2" x2="624.62" y2="355.4" stroke="#7c7c7c" stroke-width="1.0"/>
<line x1="632.95" y1="352.2" x2="632.95" y2="355.4" stroke="#7c7c7c" stroke-width="1.0"/>
<line x1="641.27" y1="352.2" x2="641.27" y2="355.4" stroke="#7c7c7c" stroke-width="1.0"/>
<line x1="657.7" y1="352.2" x2="657.7" y2="355.4" stroke="#7c7c7c" stroke-width="1.0"/>
<line x1="665.8" y1="352.2" x2="665.8" y2="355.4" stroke="#7c7c7c" stroke-width="1.0"/>
<line x1="673.9" y1="352.2" x2="673.9" y2="355.4" stroke="#7c7c7c" stroke-width="1.0"/>
<line x1="517.1" y1="257.28" x2="520.3" y2="257.28" stroke="#7c7c7c" stroke-width="1.0"/>
<line x1="517.1" y1="262.36" x2="520.3" y2="262.36" stroke="#7c7c7c" stroke-width="1.0"/>
<line x1="517.1" y1="267.44" x2="520.3" y2="267.44" stroke="#7c7c7c" stroke-width="1.0"/>
<line x1="517.1" y1="272.52" x2="520.3" y2="272.52" stroke="#7c7c7c" stroke-width="1.0"/>
<line x1="517.1" y1="282.64" x2="520.3" y2="282.64" stroke="#7c7c7c" stroke-width="1.0"/>
<line x1="517.1" y1="287.68" x2="520.3" y2="287.68" stroke="#7c7c7c" stroke-width="1.0"/>
<line x1="517.1" y1="292.72" x2="520.3" y2="292.72" stroke="#7c7c7c" stroke-width="1.0"/>
<line x1="517.1" y1="297.76" x2="520.3" y2="297.76" stroke="#7c7c7c" stroke-width="1.0"/>
<line x1="517.1" y1="307.86" x2="520.3" y2="307.86" stroke="#7c7c7c" stroke-width="1.0"/>
<line x1="517.1" y1="312.92" x2="520.3" y2="312.92" stroke="#7c7c7c" stroke-width="1.0"/>
<line x1="517.1" y1="317.98" x2="520.3" y2="317.98" stroke="#7c7c7c" stroke-width="1.0"/>
<line x1="517.1" y1="323.04" x2="520.3" y2="323.04" stroke="#7c7c7c" stroke-width="1.0"/>
<line x1="517.1" y1="333.24" x2="520.3" y2="333.24" stroke="#7c7c7c" stroke-width="1.0"/>
<line x1="517.1" y1="338.38" x2="520.3" y2="338.38" stroke="#7c7c7c" stroke-width="1.0"/>
<line x1="517.1" y1="343.52" x2="520.3" y2="343.52" stroke="#7c7c7c" stroke-width="1.0"/>
<line x1="517.1" y1="348.66" x2="520.3" y2="348.66" stroke="#7c7c7c" stroke-width="1.0"/>
<line x1="517.1" y1="359" x2="520.3" y2="359" stroke="#7c7c7c" stroke-width="1.0"/>
<line x1="517.1" y1="364.2" x2="520.3" y2="364.2" stroke="#7c7c7c" stroke-width="1.0"/>
<line x1="517.1" y1="369.4" x2="520.3" y2="369.4" stroke="#7c7c7c" stroke-width="1.0"/>
<line x1="517.1" y1="374.6" x2="520.3" y2="374.6" stroke="#7c7c7c" stroke-width="1.0"/>
<line x1="517.1" y1="384.88" x2="520.3" y2="384.88" stroke="#7c7c7c" stroke-width="1.0"/>
<line x1="517.1" y1="389.96" x2="520.3" y2="389.96" stroke="#7c7c7c" stroke-width="1.0"/>
<line x1="517.1" y1="395.04" x2="520.3" y2="395.04" stroke="#7c7c7c" stroke-width="1.0"/>
<line x1="517.1" y1="400.12" x2="520.3" y2="400.12" stroke="#7c7c7c" stroke-width="1.0"/>
<line x1="517.1" y1="410.26" x2="520.3" y2="410.26" stroke="#7c7c7c" stroke-width="1.0"/>
<line x1="517.1" y1="415.32" x2="520.3" y2="415.32" stroke="#7c7c7c" stroke-width="1.0"/>
<line x1="517.1" y1="420.38" x2="520.3" y2="420.38" stroke="#7c7c7c" stroke-width="1.0"/>
<line x1="517.1" y1="425.44" x2="520.3" y2="425.44" stroke="#7c7c7c" stroke-width="1.0"/>
<line x1="517.1" y1="435.5" x2="520.3" y2="435.5" stroke="#7c7c7c" stroke-width="1.0"/>
<line x1="517.1" y1="440.5" x2="520.3" y2="440.5" stroke="#7c7c7c" stroke-width="1.0"/>
<line x1="517.1" y1="445.5" x2="520.3" y2="445.5" stroke="#7c7c7c" stroke-width="1.0"/>
<line x1="517.1" y1="450.5" x2="520.3" y2="450.5" stroke="#7c7c7c" stroke-width="1.0"/>
<path d="M678.4,252.2 Q681.7,252.5 682,257 L682,252.2 Z" fill="#555"/>
<path d="M516.2,252.7 L521.2,252.7 L518.7,255.7 Z" fill="#666"/>
</g>
<g>
<line x1="27.1" y1="11" x2="27.6" y2="45" stroke="#7a7a7a" stroke-width="0.85"/>
<line x1="27.6" y1="45" x2="28" y2="41.8" stroke="#7a7a7a" stroke-width="0.85"/>
<line x1="43.1" y1="40.8" x2="43.3" y2="71" stroke="#7a7a7a" stroke-width="0.85"/>
<line x1="109.2" y1="70" x2="109.4" y2="38.3" stroke="#7a7a7a" stroke-width="0.85"/>
<line x1="125.7" y1="40.6" x2="126.5" y2="9.6" stroke="#7a7a7a" stroke-width="0.85"/>
<line x1="191.9" y1="11" x2="192.4" y2="45" stroke="#7a7a7a" stroke-width="0.85"/>
<line x1="192.4" y1="45" x2="192.8" y2="41.8" stroke="#7a7a7a" stroke-width="0.85"/>
<line x1="207.9" y1="40.8" x2="208.1" y2="71" stroke="#7a7a7a" stroke-width="0.85"/>
<line x1="274" y1="70" x2="274.2" y2="38.3" stroke="#7a7a7a" stroke-width="0.85"/>
<line x1="290.5" y1="40.6" x2="291.3" y2="9.6" stroke="#7a7a7a" stroke-width="0.85"/>
<polyline fill="none" stroke="#141414" stroke-width="2.1" stroke-linejoin="round" points="10,11 27.1,11"/>
<polyline fill="none" stroke="#141414" stroke-width="2.1" stroke-linejoin="round" points="28,41.8 29.6,41 43.1,40.8"/>
<polyline fill="none" stroke="#141414" stroke-width="2.1" stroke-linejoin="round" points="43.3,71 45.1,71.2 109.2,70"/>
<polyline fill="none" stroke="#141414" stroke-width="2.1" stroke-linejoin="round" points="109.4,38.3 111.1,39 125.7,40.6"/>
<polyline fill="none" stroke="#141414" stroke-width="2.1" stroke-linejoin="round" points="126.5,9.6 128.1,10.3 191.9,11 191.9,11"/>
<polyline fill="none" stroke="#141414" stroke-width="2.1" stroke-linejoin="round" points="192.8,41.8 194.4,41 207.9,40.8"/>
<polyline fill="none" stroke="#141414" stroke-width="2.1" stroke-linejoin="round" points="208.1,71 209.9,71.2 274,70"/>
<polyline fill="none" stroke="#141414" stroke-width="2.1" stroke-linejoin="round" points="274.2,38.3 275.9,39 290.5,40.6"/>
<polyline fill="none" stroke="#141414" stroke-width="2.1" stroke-linejoin="round" points="291.3,9.6 292.9,10.3 339.3,10.81"/>
<line x1="41.3" y1="69.1" x2="42.5" y2="71.6" stroke="#7a7a7a" stroke-width="0.85"/>
<line x1="42.5" y1="71.6" x2="42.9" y2="74" stroke="#7a7a7a" stroke-width="0.85"/>
<line x1="42.9" y1="74" x2="43.2" y2="133" stroke="#7a7a7a" stroke-width="0.85"/>
<line x1="43.2" y1="133" x2="44.3" y2="135.3" stroke="#7a7a7a" stroke-width="0.85"/>
<line x1="123.8" y1="132.2" x2="126.6" y2="62" stroke="#7a7a7a" stroke-width="0.85"/>
<line x1="126.6" y1="62" x2="127.6" y2="66.5" stroke="#7a7a7a" stroke-width="0.85"/>
<line x1="206.1" y1="69.1" x2="207.3" y2="71.6" stroke="#7a7a7a" stroke-width="0.85"/>
<line x1="207.3" y1="71.6" x2="207.7" y2="74" stroke="#7a7a7a" stroke-width="0.85"/>
<line x1="207.7" y1="74" x2="208" y2="133" stroke="#7a7a7a" stroke-width="0.85"/>
<line x1="208" y1="133" x2="209.1" y2="135.3" stroke="#7a7a7a" stroke-width="0.85"/>
<line x1="288.6" y1="132.2" x2="291.4" y2="62" stroke="#7a7a7a" stroke-width="0.85"/>
<line x1="291.4" y1="62" x2="292.4" y2="66.5" stroke="#7a7a7a" stroke-width="0.85"/>
<polyline fill="none" stroke="#141414" stroke-width="2.1" stroke-linejoin="round" points="10,68.8 41.3,69.1"/>
<polyline fill="none" stroke="#141414" stroke-width="2.1" stroke-linejoin="round" points="44.3,135.3 45.6,133 48.8,132.8 123.8,132.2"/>
<polyline fill="none" stroke="#141414" stroke-width="2.1" stroke-linejoin="round" points="127.6,66.5 129.3,68.2 206.1,69.1 206.1,69.1"/>
<polyline fill="none" stroke="#141414" stroke-width="2.1" stroke-linejoin="round" points="209.1,135.3 210.4,133 213.6,132.8 288.6,132.2"/>
<polyline fill="none" stroke="#141414" stroke-width="2.1" stroke-linejoin="round" points="292.4,66.5 294.1,68.2 339.3,68.73"/>
<path fill="none" stroke="#141414" stroke-width="2.4" stroke-linejoin="round" stroke-linecap="round" d="M17,152.53 C17.08,152.51 15.33,153.01 17.5,152.4 C19.67,151.79 25.7,149.83 30,148.9 C34.3,147.97 39.13,147.18 43.3,146.8 C47.47,146.42 51.38,146.47 55,146.6 C58.62,146.73 61.4,147.13 65,147.6 C68.6,148.07 72.43,148.52 76.6,149.4 C80.77,150.28 86.1,151.88 90,152.9 C93.9,153.92 96.67,154.63 100,155.5 C103.33,156.37 106.67,157.35 110,158.1 C113.33,158.85 116.67,159.6 120,160 C123.33,160.4 126.35,160.47 130,160.5 C133.65,160.53 137.73,160.6 141.9,160.2 C146.07,159.8 151.15,158.77 155,158.1 C158.85,157.43 161.7,156.82 165,156.2 C168.3,155.58 171.92,155.03 174.8,154.4 C177.68,153.77 178.97,153.32 182.3,152.4 C185.63,151.48 190.5,149.83 194.8,148.9 C199.1,147.97 203.93,147.18 208.1,146.8 C212.27,146.42 216.18,146.47 219.8,146.6 C223.42,146.73 226.2,147.13 229.8,147.6 C233.4,148.07 237.23,148.52 241.4,149.4 C245.57,150.28 250.9,151.88 254.8,152.9 C258.7,153.92 261.47,154.63 264.8,155.5 C268.13,156.37 271.47,157.35 274.8,158.1 C278.13,158.85 281.47,159.6 284.8,160 C288.13,160.4 291.15,160.47 294.8,160.5 C298.45,160.53 302.53,160.6 306.7,160.2 C310.87,159.8 315.95,158.77 319.8,158.1 C323.65,157.43 326.55,156.81 329.8,156.2 C333.05,155.59 337.72,154.75 339.3,154.46"/>
<path fill="none" stroke="#141414" stroke-width="2.4" stroke-linejoin="round" stroke-linecap="round" d="M10,171 C11.67,171.07 17.25,171.18 20,171.4 C22.75,171.62 24,171.28 26.5,172.3 C29,173.32 32.2,175.55 35,177.5 C37.8,179.45 39.97,182.38 43.3,184 C46.63,185.62 51.38,186.23 55,187.2 C58.62,188.17 61.4,189 65,189.8 C68.6,190.6 72.43,191.42 76.6,192 C80.77,192.58 86.1,193.08 90,193.3 C93.9,193.52 97.05,193.52 100,193.3 C102.95,193.08 105.23,192.97 107.7,192 C110.17,191.03 112.75,188.83 114.8,187.5 C116.85,186.17 118.22,185 120,184 C121.78,183 123.02,182.28 125.5,181.5 C127.98,180.72 132.17,180.05 134.9,179.3 C137.63,178.55 138.55,177.93 141.9,177 C145.25,176.07 150.33,174.63 155,173.7 C159.67,172.77 166.6,171.85 169.9,171.4 C173.2,170.95 172.32,171 174.8,171 C177.28,171 182.05,171.18 184.8,171.4 C187.55,171.62 188.8,171.28 191.3,172.3 C193.8,173.32 197,175.55 199.8,177.5 C202.6,179.45 204.77,182.38 208.1,184 C211.43,185.62 216.18,186.23 219.8,187.2 C223.42,188.17 226.2,189 229.8,189.8 C233.4,190.6 237.23,191.42 241.4,192 C245.57,192.58 250.9,193.08 254.8,193.3 C258.7,193.52 261.85,193.52 264.8,193.3 C267.75,193.08 270.03,192.97 272.5,192 C274.97,191.03 277.55,188.83 279.6,187.5 C281.65,186.17 283.02,185 284.8,184 C286.58,183 287.82,182.28 290.3,181.5 C292.78,180.72 296.97,180.05 299.7,179.3 C302.43,178.55 303.35,177.93 306.7,177 C310.05,176.07 315.13,174.63 319.8,173.7 C324.47,172.77 331.45,171.85 334.7,171.4 C337.95,170.95 338.53,171.09 339.3,171.02"/>
<line x1="377.7" y1="69.2" x2="378.4" y2="37.5" stroke="#7a7a7a" stroke-width="0.85"/>
<line x1="394.9" y1="38.8" x2="395.7" y2="7.8" stroke="#7a7a7a" stroke-width="0.85"/>
<line x1="460.7" y1="9.1" x2="461.4" y2="42" stroke="#7a7a7a" stroke-width="0.85"/>
<line x1="477.2" y1="39.4" x2="479.5" y2="70" stroke="#7a7a7a" stroke-width="0.85"/>
<line x1="544.6" y1="69.6" x2="545.4" y2="37.6" stroke="#7a7a7a" stroke-width="0.85"/>
<line x1="561.4" y1="39" x2="562.2" y2="7.8" stroke="#7a7a7a" stroke-width="0.85"/>
<line x1="628.4" y1="9.1" x2="629.1" y2="42" stroke="#7a7a7a" stroke-width="0.85"/>
<line x1="644.7" y1="40" x2="646.5" y2="70" stroke="#7a7a7a" stroke-width="0.85"/>
<polyline fill="none" stroke="#141414" stroke-width="2.1" stroke-linejoin="round" points="356,69.2 377.7,69.2"/>
<polyline fill="none" stroke="#141414" stroke-width="2.1" stroke-linejoin="round" points="378.4,37.5 380,38.8 394.9,38.8"/>
<polyline fill="none" stroke="#141414" stroke-width="2.1" stroke-linejoin="round" points="395.7,7.8 397.2,8.8 460.7,9.1"/>
<polyline fill="none" stroke="#141414" stroke-width="2.1" stroke-linejoin="round" points="461.4,42 463,39.8 477.2,39.4"/>
<polyline fill="none" stroke="#141414" stroke-width="2.1" stroke-linejoin="round" points="479.5,70 481,69.8 544.6,69.6"/>
<polyline fill="none" stroke="#141414" stroke-width="2.1" stroke-linejoin="round" points="545.4,37.6 547,39 561.4,39"/>
<polyline fill="none" stroke="#141414" stroke-width="2.1" stroke-linejoin="round" points="562.2,7.8 563.7,8.8 628.4,9.1"/>
<polyline fill="none" stroke="#141414" stroke-width="2.1" stroke-linejoin="round" points="629.1,42 630.5,40.2 644.7,40"/>
<polyline fill="none" stroke="#141414" stroke-width="2.1" stroke-linejoin="round" points="646.5,70 648,69.5 682,69.8"/>
<line x1="388.9" y1="131" x2="391.2" y2="103.8" stroke="#7a7a7a" stroke-width="0.85"/>
<line x1="391.2" y1="103.8" x2="392.5" y2="100" stroke="#7a7a7a" stroke-width="0.85"/>
<line x1="393.8" y1="99.3" x2="394.6" y2="96" stroke="#7a7a7a" stroke-width="0.85"/>
<line x1="394.6" y1="96" x2="395.4" y2="62" stroke="#7a7a7a" stroke-width="0.85"/>
<line x1="395.4" y1="62" x2="396" y2="60.2" stroke="#7a7a7a" stroke-width="0.85"/>
<line x1="396" y1="60.2" x2="397" y2="65" stroke="#7a7a7a" stroke-width="0.85"/>
<line x1="472.4" y1="68.4" x2="475.9" y2="100" stroke="#7a7a7a" stroke-width="0.85"/>
<line x1="478" y1="102.3" x2="478.9" y2="131.5" stroke="#7a7a7a" stroke-width="0.85"/>
<line x1="478.9" y1="131.5" x2="479.6" y2="133.2" stroke="#7a7a7a" stroke-width="0.85"/>
<line x1="555.6" y1="130.8" x2="559" y2="100" stroke="#7a7a7a" stroke-width="0.85"/>
<line x1="561.4" y1="96" x2="562.3" y2="62" stroke="#7a7a7a" stroke-width="0.85"/>
<line x1="562.3" y1="62" x2="562.7" y2="60" stroke="#7a7a7a" stroke-width="0.85"/>
<line x1="562.7" y1="60" x2="563.6" y2="65.5" stroke="#7a7a7a" stroke-width="0.85"/>
<line x1="639.5" y1="68.4" x2="643" y2="100" stroke="#7a7a7a" stroke-width="0.85"/>
<line x1="645.6" y1="102.3" x2="646.5" y2="131.6" stroke="#7a7a7a" stroke-width="0.85"/>
<polyline fill="none" stroke="#141414" stroke-width="2.1" stroke-linejoin="round" points="356,131 388.9,131"/>
<polyline fill="none" stroke="#141414" stroke-width="2.1" stroke-linejoin="round" points="392.5,100 393.8,99.3"/>
<polyline fill="none" stroke="#141414" stroke-width="2.1" stroke-linejoin="round" points="397,65 398.5,67.4 400,68 472.4,68.4"/>
<polyline fill="none" stroke="#141414" stroke-width="2.1" stroke-linejoin="round" points="475.9,100 477,101 478,102.3"/>
<polyline fill="none" stroke="#141414" stroke-width="2.1" stroke-linejoin="round" points="479.6,133.2 481,131.5 555.6,130.8"/>
<polyline fill="none" stroke="#141414" stroke-width="2.1" stroke-linejoin="round" points="559,100 560,98.6 561.4,96"/>
<polyline fill="none" stroke="#141414" stroke-width="2.1" stroke-linejoin="round" points="563.6,65.5 565,67.5 639.5,68.4"/>
<polyline fill="none" stroke="#141414" stroke-width="2.1" stroke-linejoin="round" points="643,100 644.2,101 645.6,102.3"/>
<polyline fill="none" stroke="#141414" stroke-width="2.1" stroke-linejoin="round" points="646.5,131.6 647.2,133 648.5,131.7 682,131.8"/>
<path fill="none" stroke="#141414" stroke-width="2.4" stroke-linejoin="round" stroke-linecap="round" d="M363.1,148 C365.08,148.63 370.68,150.72 375,151.8 C379.32,152.88 383.83,153.82 389,154.5 C394.17,155.18 400.53,155.95 406,155.9 C411.47,155.85 416.63,154.85 421.8,154.2 C426.97,153.55 431.63,152.83 437,152 C442.37,151.17 448.5,150.2 454,149.2 C459.5,148.2 464.53,146.9 470,146 C475.47,145.1 481.3,144.05 486.8,143.8 C492.3,143.55 497.52,144 503,144.5 C508.48,145 514.03,145.67 519.7,146.8 C525.37,147.93 531.53,150.02 537,151.3 C542.47,152.58 547,153.75 552.5,154.5 C558,155.25 564.65,155.63 570,155.8 C575.35,155.97 579.43,155.88 584.6,155.5 C589.77,155.12 595.5,154.3 601,153.5 C606.5,152.7 612.1,151.78 617.6,150.7 C623.1,149.62 628.55,148.12 634,147 C639.45,145.88 644.97,144.53 650.3,144 C655.63,143.47 660.72,143.5 666,143.8 C671.28,144.1 679.33,145.47 682,145.8"/>
<line x1="395" y1="174" x2="395.6" y2="171.5" stroke="#7a7a7a" stroke-width="0.85"/>
<line x1="395.6" y1="171.5" x2="396.2" y2="174" stroke="#7a7a7a" stroke-width="0.85"/>
<line x1="560.4" y1="173.8" x2="561" y2="172" stroke="#7a7a7a" stroke-width="0.85"/>
<polyline fill="none" stroke="#141414" stroke-width="2.4" stroke-linejoin="round" points="356,200.6 366,201.2 377.2,200 383,189.5 389.4,179.5 392,176 395,174"/>
<polyline fill="none" stroke="#141414" stroke-width="2.4" stroke-linejoin="round" points="396.2,174 408,168.5 421.8,163.3 438,160.5 454,158.8 460.5,159.6 467,171 473.7,184.3 479.8,187.8 500,194.5 519.7,200 535,201.6 544.6,200 550,190 555.1,180.8 560.4,173.8"/>
<polyline fill="none" stroke="#141414" stroke-width="2.4" stroke-linejoin="round" points="561,172 570,170.3 584.6,166.9 601,162.5 617.6,159.5 627.9,159.9 634,171.5 640.6,184.5 645,187 664,193 682,198.5"/>
<line x1="11.4" y1="307" x2="11.7" y2="259.5" stroke="#7a7a7a" stroke-width="0.85"/>
<line x1="93.7" y1="261.3" x2="94.6" y2="307.7" stroke="#7a7a7a" stroke-width="0.85"/>
<line x1="176" y1="306.5" x2="176.6" y2="260" stroke="#7a7a7a" stroke-width="0.85"/>
<line x1="258.9" y1="261.3" x2="259.5" y2="307.9" stroke="#7a7a7a" stroke-width="0.85"/>
<polyline fill="none" stroke="#141414" stroke-width="2.1" stroke-linejoin="round" points="11.7,259.5 14,260.3 18,261.3 93.7,261.3"/>
<polyline fill="none" stroke="#141414" stroke-width="2.1" stroke-linejoin="round" points="94.6,307.7 96,307.2 176,306.5"/>
<polyline fill="none" stroke="#141414" stroke-width="2.1" stroke-linejoin="round" points="176.6,260 178.5,261 258.9,261.3"/>
<polyline fill="none" stroke="#141414" stroke-width="2.1" stroke-linejoin="round" points="259.5,307.9 261,307.2 339.6,306.3"/>
<line x1="11.4" y1="377" x2="11.9" y2="345.2" stroke="#7a7a7a" stroke-width="0.85"/>
<line x1="28" y1="345.2" x2="28.6" y2="312.6" stroke="#7a7a7a" stroke-width="0.85"/>
<line x1="94" y1="314.3" x2="95.8" y2="346.3" stroke="#7a7a7a" stroke-width="0.85"/>
<line x1="110.4" y1="346.4" x2="110.8" y2="377.8" stroke="#7a7a7a" stroke-width="0.85"/>
<line x1="176.2" y1="377.1" x2="177.6" y2="344.1" stroke="#7a7a7a" stroke-width="0.85"/>
<line x1="192.6" y1="344.1" x2="193.5" y2="312.3" stroke="#7a7a7a" stroke-width="0.85"/>
<line x1="258.9" y1="313.5" x2="261.5" y2="346.1" stroke="#7a7a7a" stroke-width="0.85"/>
<line x1="275.6" y1="346.1" x2="276" y2="378" stroke="#7a7a7a" stroke-width="0.85"/>
<polyline fill="none" stroke="#141414" stroke-width="2.1" stroke-linejoin="round" points="11.9,345.2 28,345.2"/>
<polyline fill="none" stroke="#141414" stroke-width="2.1" stroke-linejoin="round" points="28.6,312.6 30,312.9 94,314.3"/>
<polyline fill="none" stroke="#141414" stroke-width="2.1" stroke-linejoin="round" points="95.8,346.3 96.6,346.2 110.4,346.4"/>
<polyline fill="none" stroke="#141414" stroke-width="2.1" stroke-linejoin="round" points="110.8,377.8 112,377.3 176.2,377.1"/>
<polyline fill="none" stroke="#141414" stroke-width="2.1" stroke-linejoin="round" points="177.6,344.1 192.6,344.1"/>
<polyline fill="none" stroke="#141414" stroke-width="2.1" stroke-linejoin="round" points="193.5,312.3 195,312.9 258.9,313.5"/>
<polyline fill="none" stroke="#141414" stroke-width="2.1" stroke-linejoin="round" points="261.5,346.1 275.6,346.1"/>
<polyline fill="none" stroke="#141414" stroke-width="2.1" stroke-linejoin="round" points="276,378 278,377.1 339.6,377.1"/>
<path fill="none" stroke="#141414" stroke-width="2.4" stroke-linejoin="round" stroke-linecap="round" d="M11.4,416.4 C12.83,416.5 16.9,417.53 20,417 C23.1,416.47 25.88,415.05 30,413.2 C34.12,411.35 39.7,408.47 44.7,405.9 C49.7,403.33 54.55,400.62 60,397.8 C65.45,394.98 71.23,391.53 77.4,389 C83.57,386.47 91.5,383.28 97,382.6 C102.5,381.92 105.73,383.25 110.4,384.9 C115.07,386.55 119.47,389.28 125,392.5 C130.53,395.72 137.77,400.95 143.6,404.2 C149.43,407.45 154.5,410 160,412 C165.5,414 172.77,415.4 176.6,416.2 C180.43,417 179.93,417.2 183,416.8 C186.07,416.4 190.5,415.47 195,413.8 C199.5,412.13 205.33,409.28 210,406.8 C214.67,404.32 217.57,402.12 223,398.9 C228.43,395.68 235.73,390.27 242.6,387.5 C249.47,384.73 258.7,382.88 264.2,382.3 C269.7,381.72 270.47,382.25 275.6,384 C280.73,385.75 289.47,389.88 295,392.8 C300.53,395.72 303.8,398.43 308.8,401.5 C313.8,404.57 319.87,408.8 325,411.2 C330.13,413.6 337.17,415.12 339.6,415.9"/>
<polyline fill="none" stroke="#141414" stroke-width="2.4" stroke-linejoin="round" points="18.4,429.6 28,423.4 40,422.3 44.7,422.6 60,424.4 77.4,428 90,432.8 110.4,444 120,445.3 143.6,443.2 160,439.7 176.6,434 195,423.4 210,422.6 230,425.7 242.6,427.5 254.5,430.6 275.6,444.5 295,445.3 308.8,443.6 325,440 339.6,434.5"/>
<line x1="404.3" y1="267" x2="405.4" y2="313" stroke="#7a7a7a" stroke-width="0.85"/>
<line x1="493.6" y1="311.7" x2="495.5" y2="265" stroke="#7a7a7a" stroke-width="0.85"/>
<line x1="583.4" y1="266.5" x2="584.5" y2="313" stroke="#7a7a7a" stroke-width="0.85"/>
<line x1="672.2" y1="311.7" x2="674.5" y2="265" stroke="#7a7a7a" stroke-width="0.85"/>
<polyline fill="none" stroke="#141414" stroke-width="2.1" stroke-linejoin="round" points="354,267 404.3,267"/>
<polyline fill="none" stroke="#141414" stroke-width="2.1" stroke-linejoin="round" points="405.4,313 407,312.5 410,311.9 493.6,311.7"/>
<polyline fill="none" stroke="#141414" stroke-width="2.1" stroke-linejoin="round" points="495.5,265 496.5,264.6 498,266.3 583.4,266.5"/>
<polyline fill="none" stroke="#141414" stroke-width="2.1" stroke-linejoin="round" points="584.5,313 586,312.5 589,311.9 672.2,311.7"/>
<polyline fill="none" stroke="#141414" stroke-width="2.1" stroke-linejoin="round" points="674.5,265 675.5,264.8 677,265.7 682,265.7"/>
<line x1="404.3" y1="318.4" x2="407.8" y2="351.5" stroke="#7a7a7a" stroke-width="0.85"/>
<line x1="421.8" y1="350.8" x2="422.7" y2="382.6" stroke="#7a7a7a" stroke-width="0.85"/>
<line x1="493.3" y1="381.4" x2="497.7" y2="348.8" stroke="#7a7a7a" stroke-width="0.85"/>
<line x1="510.8" y1="349.6" x2="512.6" y2="317.3" stroke="#7a7a7a" stroke-width="0.85"/>
<line x1="583.4" y1="318.4" x2="586.5" y2="351" stroke="#7a7a7a" stroke-width="0.85"/>
<line x1="600.9" y1="350.8" x2="602" y2="382.2" stroke="#7a7a7a" stroke-width="0.85"/>
<line x1="672.2" y1="381.4" x2="676.2" y2="349" stroke="#7a7a7a" stroke-width="0.85"/>
<polyline fill="none" stroke="#141414" stroke-width="2.1" stroke-linejoin="round" points="354,318.4 404.3,318.4"/>
<polyline fill="none" stroke="#141414" stroke-width="2.1" stroke-linejoin="round" points="407.8,351.5 408.8,350.8 421.8,350.8"/>
<polyline fill="none" stroke="#141414" stroke-width="2.1" stroke-linejoin="round" points="422.7,382.6 424,381.9 493.3,381.4"/>
<polyline fill="none" stroke="#141414" stroke-width="2.1" stroke-linejoin="round" points="497.7,348.8 510.8,349.6"/>
<polyline fill="none" stroke="#141414" stroke-width="2.1" stroke-linejoin="round" points="512.6,317.3 514,318 583.4,318.4"/>
<polyline fill="none" stroke="#141414" stroke-width="2.1" stroke-linejoin="round" points="586.5,351 587.5,350.8 600.9,350.8"/>
<polyline fill="none" stroke="#141414" stroke-width="2.1" stroke-linejoin="round" points="602,382.2 603.2,381.5 672.2,381.4"/>
<polyline fill="none" stroke="#141414" stroke-width="2.1" stroke-linejoin="round" points="676.2,349 682,349.6"/>
<path fill="none" stroke="#141414" stroke-width="2.4" stroke-linejoin="round" stroke-linecap="round" d="M361.4,404.7 C363.5,404.25 369.62,402.88 374,402 C378.38,401.12 383.37,400.2 387.7,399.4 C392.03,398.6 395.78,397.7 400,397.2 C404.22,396.7 409.72,396.47 413,396.4 C416.28,396.33 415.87,396.28 419.7,396.8 C423.53,397.32 430.45,398.48 436,399.5 C441.55,400.52 447.33,401.68 453,402.9 C458.67,404.12 464.6,405.75 470,406.8 C475.4,407.85 480.07,408.5 485.4,409.2 C490.73,409.9 496.45,411.08 502,411 C507.55,410.92 513.2,409.65 518.7,408.7 C524.2,407.75 529.62,406.42 535,405.3 C540.38,404.18 544.67,403.28 551,402 C557.33,400.72 566.28,398.53 573,397.6 C579.72,396.67 586.3,396.37 591.3,396.4 C596.3,396.43 598.83,397.15 603,397.8 C607.17,398.45 611.3,399.3 616.3,400.3 C621.3,401.3 627.45,402.68 633,403.8 C638.55,404.92 644.1,406.03 649.6,407 C655.1,407.97 660.6,408.97 666,409.6 C671.4,410.23 679.33,410.6 682,410.8"/>
<polyline fill="none" stroke="#141414" stroke-width="2.4" stroke-linejoin="round" points="354,425.4 375.4,428 387.7,430.1 404.6,435 413,439.7 420.1,445 423.6,446.3 438,445 453,443.6 465.3,440.5 485.4,436.5 494.2,434.5 502,429.5 510,424.9 513,423.3 518.7,423.8 535,425.4 551,427.3 565,430.5 583.4,435.2 590,438.8 600,445.8 616,445 633,442.5 649.6,439.8 665,436 673.6,434.2 682,427.5"/>
</g>
<g>
<path d="M6.8,38 L10.3,40.2 L6.8,42.4 Z" fill="#000"/>
<text x="2" y="41.8" font-family="Liberation Sans, sans-serif" font-size="6.3" fill="#555">1</text>
<path d="M4.7,42.2 L4.7,39.6 L6.2,39.6" fill="none" stroke="#666" stroke-width="0.7"/>
<path d="M4.7,41.2 L4.7,46 M2.9,44.3 L4.7,46.2 L6.5,44.3" fill="none" stroke="#888" stroke-width="0.8"/>
<rect x="11" y="35.7" width="5.5" height="9" fill="#fff"/>
<text x="11.8" y="42" font-family="Liberation Sans, sans-serif" font-size="7.8" fill="#3a3a3a">1</text>
<text x="5.4" y="36" font-family="Liberation Sans, sans-serif" font-size="5.6" fill="#555">T</text>
<line x1="6.9" y1="36" x2="6.9" y2="38.2" stroke="#777" stroke-width="0.6"/>
<path d="M6.8,96.5 L10.3,98.7 L6.8,100.9 Z" fill="#000"/>
<text x="2" y="100.3" font-family="Liberation Sans, sans-serif" font-size="6.3" fill="#555">2</text>
<path d="M4.7,100.7 L4.7,98.1 L6.2,98.1" fill="none" stroke="#666" stroke-width="0.7"/>
<path d="M4.7,99.7 L4.7,104.5 M2.9,102.8 L4.7,104.7 L6.5,102.8" fill="none" stroke="#888" stroke-width="0.8"/>
<rect x="11" y="94.2" width="5.5" height="9" fill="#fff"/>
<text x="11.8" y="100.5" font-family="Liberation Sans, sans-serif" font-size="7.8" fill="#3a3a3a">2</text>
<path d="M6.8,150.4 L10.3,152.6 L6.8,154.8 Z" fill="#000"/>
<text x="2" y="154.2" font-family="Liberation Sans, sans-serif" font-size="6.3" fill="#555">3</text>
<path d="M4.7,154.6 L4.7,152 L6.2,152" fill="none" stroke="#666" stroke-width="0.7"/>
<path d="M4.7,153.6 L4.7,158.4 M2.9,156.7 L4.7,158.6 L6.5,156.7" fill="none" stroke="#888" stroke-width="0.8"/>
<rect x="11" y="148.1" width="5.5" height="9" fill="#fff"/>
<text x="11.8" y="154.4" font-family="Liberation Sans, sans-serif" font-size="7.8" fill="#3a3a3a">3</text>
<path d="M6.8,180.6 L10.3,182.8 L6.8,185 Z" fill="#000"/>
<text x="2" y="184.4" font-family="Liberation Sans, sans-serif" font-size="6.3" fill="#555">4</text>
<path d="M4.7,184.8 L4.7,182.2 L6.2,182.2" fill="none" stroke="#666" stroke-width="0.7"/>
<path d="M4.7,183.8 L4.7,188.6 M2.9,186.9 L4.7,188.8 L6.5,186.9" fill="none" stroke="#888" stroke-width="0.8"/>
<rect x="11" y="178.3" width="5.5" height="9" fill="#fff"/>
<text x="11.8" y="184.6" font-family="Liberation Sans, sans-serif" font-size="7.8" fill="#3a3a3a">4</text>
<rect x="43.5" y="6" width="35" height="12.2" fill="#fff"/>
<text x="44.8" y="16.2" font-family="Liberation Serif, Noto Serif CJK SC, serif" font-size="12" fill="#ee1c24" stroke="#ee1c24" stroke-width="0.2">50kHz</text>
<rect x="206.5" y="16.6" width="68.5" height="11.3" fill="#fff"/>
<text x="207.6" y="25.7" font-family="Liberation Serif, Noto Serif CJK SC, serif" font-size="12" fill="#ee1c24" stroke="#ee1c24" stroke-width="0.2"><tspan font-style="italic">v</tspan><tspan font-size="7.6" dy="1.7">p</tspan><tspan dy="-1.7">(100V/div)</tspan></text>
<rect x="216" y="92" width="66" height="8.7" fill="#fff"/>
<text x="217.5" y="99.7" font-family="Liberation Serif, Noto Serif CJK SC, serif" font-size="12" fill="#ee1c24" stroke="#ee1c24" stroke-width="0.2"><tspan font-style="italic">v</tspan><tspan font-size="7.6" dy="1.7">s</tspan><tspan dy="-1.7">(100V/div)</tspan></text>
<rect x="120" y="138.6" width="68" height="9.8" fill="#fff"/>
<text x="121.4" y="146.9" font-family="Liberation Serif, Noto Serif CJK SC, serif" font-size="12" fill="#ee1c24" stroke="#ee1c24" stroke-width="0.2"><tspan font-style="italic">v</tspan><tspan font-size="7.6" dy="1.7">cr</tspan><tspan dy="-1.7">(200V/div)</tspan></text>
<rect x="125.5" y="193.2" width="49.4" height="15.8" fill="#fff"/>
<text x="126.8" y="202.7" font-family="Liberation Serif, Noto Serif CJK SC, serif" font-size="12" fill="#ee1c24" stroke="#ee1c24" stroke-width="0.2"><tspan font-style="italic">i</tspan><tspan font-size="7.6" dy="1.7">r</tspan><tspan dy="-1.7">(5A/div)</tspan></text>
<rect x="232" y="195.1" width="105" height="14.9" fill="#fff"/>
<text x="233.7" y="207.3" font-family="Liberation Serif, Noto Serif CJK SC, serif" font-size="12.2" fill="#ee1c24" stroke="#ee1c24" stroke-width="0.2">Timebase：4μs/div</text>
<text x="162.6" y="227.7" font-family="Liberation Serif, Noto Serif CJK SC, serif" font-size="10.7" fill="#262626">(a)</text>
<path d="M352.5,36 L356,38.2 L352.5,40.4 Z" fill="#000"/>
<text x="347.7" y="39.8" font-family="Liberation Sans, sans-serif" font-size="6.3" fill="#555">1</text>
<path d="M350.4,40.2 L350.4,37.6 L351.9,37.6" fill="none" stroke="#666" stroke-width="0.7"/>
<path d="M350.4,39.2 L350.4,44 M348.6,42.3 L350.4,44.2 L352.2,42.3" fill="none" stroke="#888" stroke-width="0.8"/>
<rect x="356.7" y="33.7" width="5.5" height="9" fill="#fff"/>
<text x="357.5" y="40" font-family="Liberation Sans, sans-serif" font-size="7.8" fill="#3a3a3a">1</text>
<text x="351.1" y="34" font-family="Liberation Sans, sans-serif" font-size="5.6" fill="#555">T</text>
<line x1="352.6" y1="34" x2="352.6" y2="36.2" stroke="#777" stroke-width="0.6"/>
<path d="M352.5,95.5 L356,97.7 L352.5,99.9 Z" fill="#000"/>
<text x="347.7" y="99.3" font-family="Liberation Sans, sans-serif" font-size="6.3" fill="#555">2</text>
<path d="M350.4,99.7 L350.4,97.1 L351.9,97.1" fill="none" stroke="#666" stroke-width="0.7"/>
<path d="M350.4,98.7 L350.4,103.5 M348.6,101.8 L350.4,103.7 L352.2,101.8" fill="none" stroke="#888" stroke-width="0.8"/>
<rect x="356.7" y="93.2" width="5.5" height="9" fill="#fff"/>
<text x="357.5" y="99.5" font-family="Liberation Sans, sans-serif" font-size="7.8" fill="#3a3a3a">2</text>
<path d="M352.5,145.8 L356,148 L352.5,150.2 Z" fill="#000"/>
<text x="347.7" y="149.6" font-family="Liberation Sans, sans-serif" font-size="6.3" fill="#555">3</text>
<path d="M350.4,150 L350.4,147.4 L351.9,147.4" fill="none" stroke="#666" stroke-width="0.7"/>
<path d="M350.4,149 L350.4,153.8 M348.6,152.1 L350.4,154 L352.2,152.1" fill="none" stroke="#888" stroke-width="0.8"/>
<rect x="356.7" y="143.5" width="5.5" height="9" fill="#fff"/>
<text x="357.5" y="149.8" font-family="Liberation Sans, sans-serif" font-size="7.8" fill="#3a3a3a">3</text>
<path d="M352.5,183.8 L356,186 L352.5,188.2 Z" fill="#000"/>
<text x="347.7" y="187.6" font-family="Liberation Sans, sans-serif" font-size="6.3" fill="#555">4</text>
<path d="M350.4,188 L350.4,185.4 L351.9,185.4" fill="none" stroke="#666" stroke-width="0.7"/>
<path d="M350.4,187 L350.4,191.8 M348.6,190.1 L350.4,192 L352.2,190.1" fill="none" stroke="#888" stroke-width="0.8"/>
<rect x="356.7" y="181.5" width="5.5" height="9" fill="#fff"/>
<text x="357.5" y="187.8" font-family="Liberation Sans, sans-serif" font-size="7.8" fill="#3a3a3a">4</text>
<rect x="349" y="9.4" width="43.5" height="11.2" fill="#fff"/>
<text x="350" y="18.4" font-family="Liberation Serif, Noto Serif CJK SC, serif" font-size="12" fill="#ee1c24" stroke="#ee1c24" stroke-width="0.2">70.8kHz</text>
<rect x="558.6" y="44.5" width="76.4" height="12" fill="#fff"/>
<text x="565.9" y="54.3" font-family="Liberation Serif, Noto Serif CJK SC, serif" font-size="12" fill="#ee1c24" stroke="#ee1c24" stroke-width="0.2"><tspan font-style="italic">v</tspan><tspan font-size="7.6" dy="1.7">p</tspan><tspan dy="-1.7">(100V/div)</tspan></text>
<rect x="571.5" y="110.3" width="65" height="10.7" fill="#fff"/>
<text x="572.9" y="119.6" font-family="Liberation Serif, Noto Serif CJK SC, serif" font-size="12" fill="#ee1c24" stroke="#ee1c24" stroke-width="0.2"><tspan font-style="italic">v</tspan><tspan font-size="7.6" dy="1.7">s</tspan><tspan dy="-1.7">(100V/div)</tspan></text>
<rect x="547" y="135.5" width="67.5" height="10.5" fill="#fff"/>
<text x="548.2" y="144.8" font-family="Liberation Serif, Noto Serif CJK SC, serif" font-size="12" fill="#ee1c24" stroke="#ee1c24" stroke-width="0.2"><tspan font-style="italic">v</tspan><tspan font-size="7.6" dy="1.7">cr</tspan><tspan dy="-1.7">(100V/div)</tspan></text>
<rect x="490.5" y="167.2" width="50.5" height="12.4" fill="#fff"/>
<text x="492" y="179" font-family="Liberation Serif, Noto Serif CJK SC, serif" font-size="12" fill="#ee1c24" stroke="#ee1c24" stroke-width="0.2"><tspan font-style="italic">i</tspan><tspan font-size="7.6" dy="1.7">r</tspan><tspan dy="-1.7">(2A/div)</tspan></text>
<rect x="565.5" y="195.3" width="99" height="15.7" fill="#fff"/>
<text x="566.6" y="208.1" font-family="Liberation Serif, Noto Serif CJK SC, serif" font-size="12.2" fill="#ee1c24" stroke="#ee1c24" stroke-width="0.2">Timebase：3μs/div</text>
<text x="505.5" y="227.7" font-family="Liberation Serif, Noto Serif CJK SC, serif" font-size="10.7" fill="#262626">(b)</text>
<path d="M8.2,281 L11.7,283.2 L8.2,285.4 Z" fill="#000"/>
<text x="3.4" y="284.8" font-family="Liberation Sans, sans-serif" font-size="6.3" fill="#555">1</text>
<path d="M6.1,285.2 L6.1,282.6 L7.6,282.6" fill="none" stroke="#666" stroke-width="0.7"/>
<path d="M6.1,284.2 L6.1,289 M4.3,287.3 L6.1,289.2 L7.9,287.3" fill="none" stroke="#888" stroke-width="0.8"/>
<rect x="12.4" y="278.7" width="5.5" height="9" fill="#fff"/>
<text x="13.2" y="285" font-family="Liberation Sans, sans-serif" font-size="7.8" fill="#3a3a3a">1</text>
<text x="6.8" y="279" font-family="Liberation Sans, sans-serif" font-size="5.6" fill="#555">T</text>
<line x1="8.3" y1="279" x2="8.3" y2="281.2" stroke="#777" stroke-width="0.6"/>
<path d="M8.2,340.7 L11.7,342.9 L8.2,345.1 Z" fill="#000"/>
<text x="3.4" y="344.5" font-family="Liberation Sans, sans-serif" font-size="6.3" fill="#555">2</text>
<path d="M6.1,344.9 L6.1,342.3 L7.6,342.3" fill="none" stroke="#666" stroke-width="0.7"/>
<path d="M6.1,343.9 L6.1,348.7 M4.3,347 L6.1,348.9 L7.9,347" fill="none" stroke="#888" stroke-width="0.8"/>
<rect x="12.4" y="338.4" width="5.5" height="9" fill="#fff"/>
<text x="13.2" y="344.7" font-family="Liberation Sans, sans-serif" font-size="7.8" fill="#3a3a3a">2</text>
<path d="M8.2,395.5 L11.7,397.7 L8.2,399.9 Z" fill="#000"/>
<text x="3.4" y="399.3" font-family="Liberation Sans, sans-serif" font-size="6.3" fill="#555">3</text>
<path d="M6.1,399.7 L6.1,397.1 L7.6,397.1" fill="none" stroke="#666" stroke-width="0.7"/>
<path d="M6.1,398.7 L6.1,403.5 M4.3,401.8 L6.1,403.7 L7.9,401.8" fill="none" stroke="#888" stroke-width="0.8"/>
<rect x="12.4" y="393.2" width="5.5" height="9" fill="#fff"/>
<text x="13.2" y="399.5" font-family="Liberation Sans, sans-serif" font-size="7.8" fill="#3a3a3a">3</text>
<path d="M8.2,430.5 L11.7,432.7 L8.2,434.9 Z" fill="#000"/>
<text x="3.4" y="434.3" font-family="Liberation Sans, sans-serif" font-size="6.3" fill="#555">4</text>
<path d="M6.1,434.7 L6.1,432.1 L7.6,432.1" fill="none" stroke="#666" stroke-width="0.7"/>
<path d="M6.1,433.7 L6.1,438.5 M4.3,436.8 L6.1,438.7 L7.9,436.8" fill="none" stroke="#888" stroke-width="0.8"/>
<rect x="12.4" y="428.2" width="5.5" height="9" fill="#fff"/>
<text x="13.2" y="434.5" font-family="Liberation Sans, sans-serif" font-size="7.8" fill="#3a3a3a">4</text>
<rect x="29.5" y="249.5" width="34.5" height="10.5" fill="#fff"/>
<text x="30.7" y="259" font-family="Liberation Serif, Noto Serif CJK SC, serif" font-size="12" fill="#ee1c24" stroke="#ee1c24" stroke-width="0.2">50kHz</text>
<rect x="179.5" y="268.5" width="78.8" height="11.5" fill="#fff"/>
<text x="184.6" y="278.4" font-family="Liberation Serif, Noto Serif CJK SC, serif" font-size="12" fill="#ee1c24" stroke="#ee1c24" stroke-width="0.2"><tspan font-style="italic">v</tspan><tspan font-size="8" dy="1.9">AB</tspan><tspan dy="-1.9">(100V/div)</tspan></text>
<rect x="188" y="347.8" width="78" height="12.3" fill="#fff"/>
<text x="192.3" y="357.8" font-family="Liberation Serif, Noto Serif CJK SC, serif" font-size="12" fill="#ee1c24" stroke="#ee1c24" stroke-width="0.2"><tspan font-style="italic">v</tspan><tspan font-size="8" dy="1.9">CD</tspan><tspan dy="-1.9">(100V/div)</tspan></text>
<rect x="229.5" y="402.5" width="70" height="14" fill="#fff"/>
<text x="230.9" y="414.7" font-family="Liberation Serif, Noto Serif CJK SC, serif" font-size="12" fill="#ee1c24" stroke="#ee1c24" stroke-width="0.2"><tspan font-style="italic">v</tspan><tspan font-size="7.6" dy="1.7">cp</tspan><tspan dy="-1.7">(100V/div)</tspan></text>
<rect x="182" y="439.5" width="59" height="11.5" fill="#fff"/>
<text x="183.6" y="448" font-family="Liberation Serif, Noto Serif CJK SC, serif" font-size="12" fill="#ee1c24" stroke="#ee1c24" stroke-width="0.2"><tspan font-style="italic">i</tspan><tspan font-size="8" dy="1.9">LC</tspan><tspan dy="-1.9">(5A/div)</tspan></text>
<rect x="240.7" y="446.9" width="102.3" height="18.1" fill="#fff"/>
<text x="242.8" y="460.2" font-family="Liberation Serif, Noto Serif CJK SC, serif" font-size="12.2" fill="#ee1c24" stroke="#ee1c24" stroke-width="0.2">Timebase：4μs/div</text>
<text x="162.6" y="480.1" font-family="Liberation Serif, Noto Serif CJK SC, serif" font-size="10.7" fill="#262626">(c)</text>
<path d="M350.7,286.2 L354.2,288.4 L350.7,290.6 Z" fill="#000"/>
<text x="345.9" y="290" font-family="Liberation Sans, sans-serif" font-size="6.3" fill="#555">1</text>
<path d="M348.6,290.4 L348.6,287.8 L350.1,287.8" fill="none" stroke="#666" stroke-width="0.7"/>
<path d="M348.6,289.4 L348.6,294.2 M346.8,292.5 L348.6,294.4 L350.4,292.5" fill="none" stroke="#888" stroke-width="0.8"/>
<rect x="354.9" y="283.9" width="5.5" height="9" fill="#fff"/>
<text x="355.7" y="290.2" font-family="Liberation Sans, sans-serif" font-size="7.8" fill="#3a3a3a">1</text>
<text x="349.3" y="284.2" font-family="Liberation Sans, sans-serif" font-size="5.6" fill="#555">T</text>
<line x1="350.8" y1="284.2" x2="350.8" y2="286.4" stroke="#777" stroke-width="0.6"/>
<path d="M350.7,345.1 L354.2,347.3 L350.7,349.5 Z" fill="#000"/>
<text x="345.9" y="348.9" font-family="Liberation Sans, sans-serif" font-size="6.3" fill="#555">2</text>
<path d="M348.6,349.3 L348.6,346.7 L350.1,346.7" fill="none" stroke="#666" stroke-width="0.7"/>
<path d="M348.6,348.3 L348.6,353.1 M346.8,351.4 L348.6,353.3 L350.4,351.4" fill="none" stroke="#888" stroke-width="0.8"/>
<rect x="354.9" y="342.8" width="5.5" height="9" fill="#fff"/>
<text x="355.7" y="349.1" font-family="Liberation Sans, sans-serif" font-size="7.8" fill="#3a3a3a">2</text>
<path d="M350.7,399.8 L354.2,402 L350.7,404.2 Z" fill="#000"/>
<text x="345.9" y="403.6" font-family="Liberation Sans, sans-serif" font-size="6.3" fill="#555">3</text>
<path d="M348.6,404 L348.6,401.4 L350.1,401.4" fill="none" stroke="#666" stroke-width="0.7"/>
<path d="M348.6,403 L348.6,407.8 M346.8,406.1 L348.6,408 L350.4,406.1" fill="none" stroke="#888" stroke-width="0.8"/>
<rect x="354.9" y="397.5" width="5.5" height="9" fill="#fff"/>
<text x="355.7" y="403.8" font-family="Liberation Sans, sans-serif" font-size="7.8" fill="#3a3a3a">3</text>
<path d="M350.7,432.3 L354.2,434.5 L350.7,436.7 Z" fill="#000"/>
<text x="345.9" y="436.1" font-family="Liberation Sans, sans-serif" font-size="6.3" fill="#555">4</text>
<path d="M348.6,436.5 L348.6,433.9 L350.1,433.9" fill="none" stroke="#666" stroke-width="0.7"/>
<path d="M348.6,435.5 L348.6,440.3 M346.8,438.6 L348.6,440.5 L350.4,438.6" fill="none" stroke="#888" stroke-width="0.8"/>
<rect x="354.9" y="430" width="5.5" height="9" fill="#fff"/>
<text x="355.7" y="436.3" font-family="Liberation Sans, sans-serif" font-size="7.8" fill="#3a3a3a">4</text>
<rect x="355.5" y="254.4" width="45.5" height="10.4" fill="#fff"/>
<text x="357" y="263" font-family="Liberation Serif, Noto Serif CJK SC, serif" font-size="12" fill="#ee1c24" stroke="#ee1c24" stroke-width="0.2">63.5kHz</text>
<rect x="501.2" y="275" width="76.8" height="11.2" fill="#fff"/>
<text x="508.2" y="284.6" font-family="Liberation Serif, Noto Serif CJK SC, serif" font-size="12" fill="#ee1c24" stroke="#ee1c24" stroke-width="0.2"><tspan font-style="italic">v</tspan><tspan font-size="7.6" dy="1.7">p</tspan><tspan dy="-1.7">(100V/div)</tspan></text>
<rect x="510.8" y="352.3" width="77" height="11.2" fill="#fff"/>
<text x="517.8" y="362.2" font-family="Liberation Serif, Noto Serif CJK SC, serif" font-size="12" fill="#ee1c24" stroke="#ee1c24" stroke-width="0.2"><tspan font-style="italic">v</tspan><tspan font-size="7.6" dy="1.7">s</tspan><tspan dy="-1.7">(100V/div)</tspan></text>
<rect x="560" y="408.5" width="69" height="10.5" fill="#fff"/>
<text x="561.6" y="417.8" font-family="Liberation Serif, Noto Serif CJK SC, serif" font-size="12" fill="#ee1c24" stroke="#ee1c24" stroke-width="0.2"><tspan font-style="italic">v</tspan><tspan font-size="7.6" dy="1.7">cr</tspan><tspan dy="-1.7">(100V/div)</tspan></text>
<rect x="488.5" y="441" width="50" height="15" fill="#fff"/>
<text x="489.8" y="451.2" font-family="Liberation Serif, Noto Serif CJK SC, serif" font-size="12" fill="#ee1c24" stroke="#ee1c24" stroke-width="0.2"><tspan font-style="italic">i</tspan><tspan font-size="7.6" dy="1.7">r</tspan><tspan dy="-1.7">(2A/div)</tspan></text>
<rect x="581" y="446" width="101.5" height="17" fill="#fff"/>
<text x="582.3" y="459.6" font-family="Liberation Serif, Noto Serif CJK SC, serif" font-size="12.2" fill="#ee1c24" stroke="#ee1c24" stroke-width="0.2">Timebase：3μs/div</text>
<text x="505.6" y="479.8" font-family="Liberation Serif, Noto Serif CJK SC, serif" font-size="10.7" fill="#262626">(d)</text>
</g>
</svg>
</body></html>
